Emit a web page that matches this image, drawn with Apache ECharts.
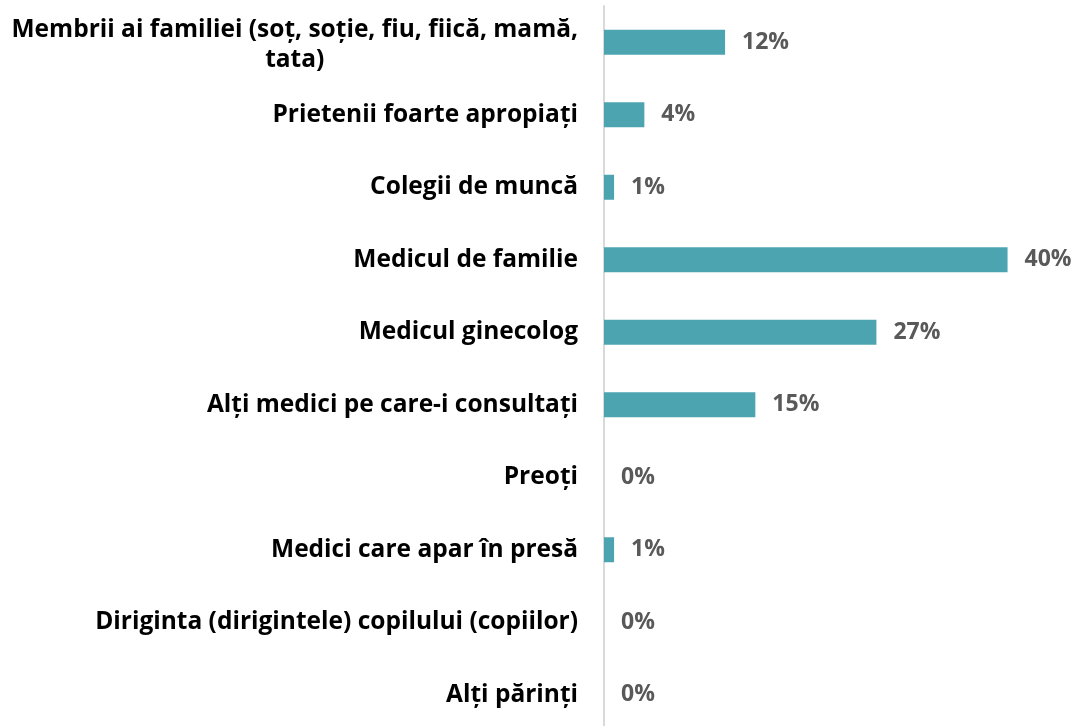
<!DOCTYPE html>
<html>
<head>
<meta charset="utf-8">
<script src="https://cdn.jsdelivr.net/npm/echarts@6/dist/echarts.min.js"></script>
<style>
html,body{margin:0;padding:0;background:#fff;}
#c{width:1077px;height:726px;}
</style>
</head>
<body>
<div id="c"></div>
<script>
const categories = [
  "Membrii ai familiei (soț, soție, fiu, fiică, mamă,\ntata)",
  "Prietenii foarte apropiați",
  "Colegii de muncă",
  "Medicul de familie",
  "Medicul ginecolog",
  "Alți medici pe care-i consultați",
  "Preoți",
  "Medici care apar în presă",
  "Diriginta (dirigintele) copilului (copiilor)",
  "Alți părinți"
];
const values = [12, 4, 1, 40, 27, 15, 0, 1, 0, 0];

const FONT = '"Open Sans", sans-serif';
const chart = echarts.init(document.getElementById('c'), null, {renderer: 'canvas'});
chart.setOption({
  animation: false,
  backgroundColor: '#ffffff',
  grid: {left: 604, top: 6, width: 454, height: 725, outerBoundsMode: 'none', containLabel: false},
  xAxis: {
    type: 'value', min: 0, max: 45,
    show: false
  },
  yAxis: {
    type: 'category',
    inverse: true,
    data: categories,
    axisLine: {show: true, lineStyle: {color: '#d9d9d9', width: 2}},
    axisTick: {show: false},
    splitLine: {show: false},
    axisLabel: {
      margin: 26,
      fontFamily: FONT,
      fontWeight: 'bold',
      fontSize: 24.5,
      color: '#000000',
      formatter: function (v) {
        if (v.indexOf('\n') >= 0) {
          const parts = v.split('\n');
          return '{c| }\n{a|' + parts[0] + '}\n{b|' + parts[1] + '}';
        }
        return v;
      },
      rich: {
        a: {fontFamily: FONT, fontWeight: 'bold', fontSize: 24.5, color: '#000', lineHeight: 30, align: 'right'},
        b: {fontFamily: FONT, fontWeight: 'bold', fontSize: 24.5, color: '#000', lineHeight: 30, align: 'center'},
        c: {fontSize: 4, lineHeight: 5}
      }
    }
  },
  series: [{
    type: 'bar',
    data: values,
    barWidth: 25,
    itemStyle: {color: '#4ba4b0'},
    label: {
      show: true,
      position: 'right',
      distance: 17,
      formatter: '{c}%',
      fontFamily: FONT,
      fontWeight: 'bold',
      fontSize: 23,
      color: '#595959'
    }
  }]
});
</script>
</body>
</html>
